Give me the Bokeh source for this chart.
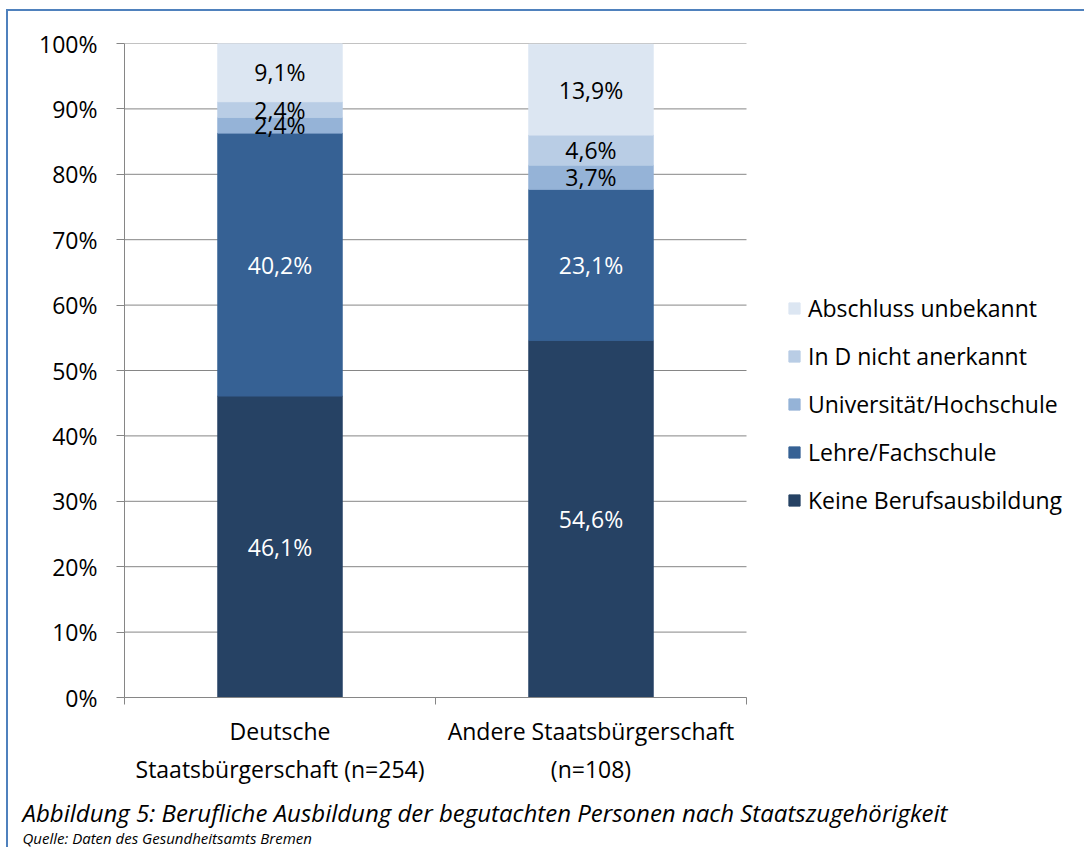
from bokeh.plotting import figure
from bokeh.models import ColumnDataSource, Range1d, FixedTicker, Legend, LegendItem, Title
from bokeh.core.properties import value
from bokeh.embed import file_html
from bokeh.resources import INLINE

# ---- data ----
categories = ["Deutsche\nStaatsbürgerschaft (n=254)", "Andere Staatsbürgerschaft\n(n=108)"]
series = ["Keine Berufsausbildung", "Lehre/Fachschule", "Universität/Hochschule",
          "In D nicht anerkannt", "Abschluss unbekannt"]
keys = ["keine", "lehre", "uni", "ind", "unbekannt"]
deutsche = [46.1, 40.2, 2.4, 2.4, 9.1]
andere = [54.6, 23.1, 3.7, 4.6, 13.9]
y_ticks = [0, 10, 20, 30, 40, 50, 60, 70, 80, 90, 100]
caption = "Abbildung 5: Berufliche Ausbildung der begutachten Personen nach Staatszugehörigkeit"
source_note = "Quelle: Daten des Gesundheitsamts Bremen"

# ---- styles / layout ----
colors = ["#264264", "#366194", "#95b3d7", "#b9cde5", "#dce6f2"]
label_colors = ["white", "white", "black", "black", "black"]
FONT = "Open Sans"
FS = "23px"
GRAY = "#868686"
n_cat = len(categories)
cat_pos = [i + 0.5 for i in range(n_cat)]

W, H = 1078, 838
BL, BR, BT, BB = 116, 0, 32, 152
PLOT_W = 622  # pixel width of the category area
x_end = n_cat * (W - BL - BR) / PLOT_W

p = figure(width=W, height=H, x_range=Range1d(0, x_end), y_range=Range1d(0, 100),
           output_backend="svg", toolbar_location=None,
           min_border_left=BL, min_border_right=BR, min_border_top=BT, min_border_bottom=BB)
p.outline_line_color = None
p.styles = {"margin-left": "6px", "margin-top": "9px",
            "border-top": "2px solid #4f81bd", "border-left": "2px solid #4f81bd"}

# gridlines limited to the category area
p.xgrid.visible = False
p.ygrid.visible = False
p.segment(x0=[0] * len(y_ticks), x1=[n_cat] * len(y_ticks), y0=y_ticks, y1=y_ticks,
          line_color=GRAY, line_width=1)

data = {"x": cat_pos}
for i, k in enumerate(keys):
    data[k] = [deutsche[i], andere[i]]
src = ColumnDataSource(data)
renderers = p.vbar_stack(keys, x="x", width=0.4, color=colors, source=src)

def fmt(v):
    return f"{v:.1f}".replace(".", ",") + "%"

xs, ys, ts, cs = [], [], [], []
for j, vals in enumerate([deutsche, andere]):
    cum = 0.0
    for i, v in enumerate(vals):
        xs.append(cat_pos[j]); ys.append(cum + v / 2); ts.append(fmt(v)); cs.append(label_colors[i])
        cum += v
lsrc = ColumnDataSource(dict(x=xs, y=ys, t=ts, c=cs))
p.text(x="x", y="y", text="t", text_color="c", source=lsrc, text_align="center",
       text_baseline="middle", text_font=value(FONT), text_font_size=FS)

ya = p.yaxis[0]
ya.ticker = FixedTicker(ticks=y_ticks, minor_ticks=[])
ya.major_label_overrides = {t: f"{t}%" for t in y_ticks}
ya.axis_line_color = GRAY
ya.major_tick_line_color = GRAY
ya.major_tick_out = 8
ya.major_tick_in = 0
ya.minor_tick_line_color = None
ya.major_label_text_font = FONT
ya.major_label_text_font_size = FS
ya.major_label_text_color = "black"
ya.major_label_standoff = 19

xa = p.xaxis[0]
xa.bounds = (0, n_cat)
xa.ticker = FixedTicker(ticks=cat_pos, minor_ticks=list(range(n_cat + 1)))
xa.major_label_overrides = {cat_pos[i]: categories[i] for i in range(n_cat)}
xa.axis_line_color = GRAY
xa.major_tick_line_color = None
xa.major_tick_out = 0
xa.major_tick_in = 0
xa.minor_tick_line_color = GRAY
xa.minor_tick_out = 7
xa.minor_tick_in = 0
xa.major_label_text_font = FONT
xa.major_label_text_font_size = FS
xa.major_label_text_color = "black"
xa.major_label_standoff = 10

items = [LegendItem(label=series[i], renderers=[renderers[i]]) for i in reversed(range(len(series)))]
legend = Legend(items=items, location=(663, 181), orientation="vertical", padding=0, margin=0,
                border_line_color=None, background_fill_alpha=0, glyph_width=14, glyph_height=14,
                label_standoff=7, label_height=23, spacing=16, label_text_font=FONT,
                label_text_font_size=FS, label_text_color="black")
p.add_layout(legend)

p.add_layout(Title(text=caption, align="left", offset=-102, standoff=13, text_font=FONT,
                   text_font_style="italic", text_font_size="24px", text_color="black"), "below")
p.add_layout(Title(text=source_note, align="left", offset=-102, standoff=-20, text_font=FONT,
                   text_font_style="italic", text_font_size="15px", text_color="black"), "below")

open("out.html", "w").write(file_html(p, INLINE))
